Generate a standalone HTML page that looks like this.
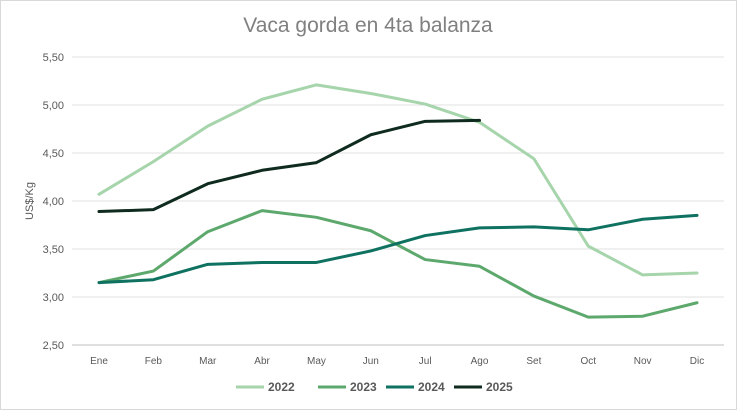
<!DOCTYPE html>
<html><head><meta charset="utf-8"><style>
body{margin:0;background:#fff;font-family:"Liberation Sans",sans-serif}
svg{display:block}
</style></head><body>
<svg width="737" height="410" id="c">
<rect x="0.5" y="0.5" width="736" height="409" fill="#fff" stroke="#d9d9d9"/>
<text x="368" y="32" text-anchor="middle" font-size="21" fill="#808080">Vaca gorda en 4ta balanza</text>
<text transform="translate(33,201) rotate(-90)" text-anchor="middle" font-size="11" fill="#595959">US$/Kg</text>
<g id="grid"></g><g id="series"></g><g id="legend"></g>
</svg>
<script>
const categories=["Ene","Feb","Mar","Abr","May","Jun","Jul","Ago","Set","Oct","Nov","Dic"];
const yTicks=[2.5,3.0,3.5,4.0,4.5,5.0,5.5];
const s2022=[4.07,4.41,4.78,5.06,5.21,5.12,5.01,4.82,4.44,3.53,3.23,3.25];
const s2023=[3.15,3.27,3.68,3.90,3.83,3.69,3.39,3.32,3.01,2.79,2.80,2.94];
const s2024=[3.15,3.18,3.34,3.36,3.36,3.48,3.64,3.72,3.73,3.70,3.81,3.85];
const s2025=[3.89,3.91,4.18,4.32,4.40,4.69,4.83,4.84];
const seriesNames=["2022","2023","2024","2025"];
const NS="http://www.w3.org/2000/svg";
const X=i=>99+i*(697-99)/11;
const Y=v=>345-(v-2.5)*96;
function mk(t,a,p){const e=document.createElementNS(NS,t);for(const k in a)e.setAttribute(k,a[k]);p.appendChild(e);return e;}
const g=document.getElementById('grid');
yTicks.forEach(v=>{
 const l=mk('line',{x1:72,x2:724,y1:Y(v),y2:Y(v),stroke:v===2.5?'#bfbfbf':'#e0e0e0'},g);
 
 
 const t=mk('text',{x:64,y:Y(v)+4,'text-anchor':'end','font-size':11,fill:'#595959'},g);
 t.textContent=v.toFixed(2).replace('.',',');
 
 
});
categories.forEach((c,i)=>{
 const t=mk('text',{x:X(i),y:364,'text-anchor':'middle','font-size':10,fill:'#595959'},g);
 t.textContent=c;
 
 
});
const colors=["#a6d4ab","#5da86c","#0f7261","#0f2b1f"];
const data=[s2022,s2023,s2024,s2025];
const sg=document.getElementById('series');
data.forEach((d,k)=>{
 const p=mk('polyline',{points:d.map((v,i)=>X(i)+','+Y(v)).join(' '),fill:'none',stroke:colors[k],'stroke-width':3,'stroke-linejoin':'round','stroke-linecap':'round'},sg);
 
 
});
const lg=document.getElementById('legend');
const lx=[236,318,386,454];
seriesNames.forEach((n,k)=>{
 const l=mk('line',{x1:lx[k],x2:lx[k]+28,y1:387,y2:387,stroke:colors[k],'stroke-width':3},lg);
 
 
 const t=mk('text',{x:lx[k]+32,y:391,'font-size':12,'font-weight':'bold',fill:'#595959'},lg);
 t.textContent=n;
 
 
});
</script>
</body></html>
